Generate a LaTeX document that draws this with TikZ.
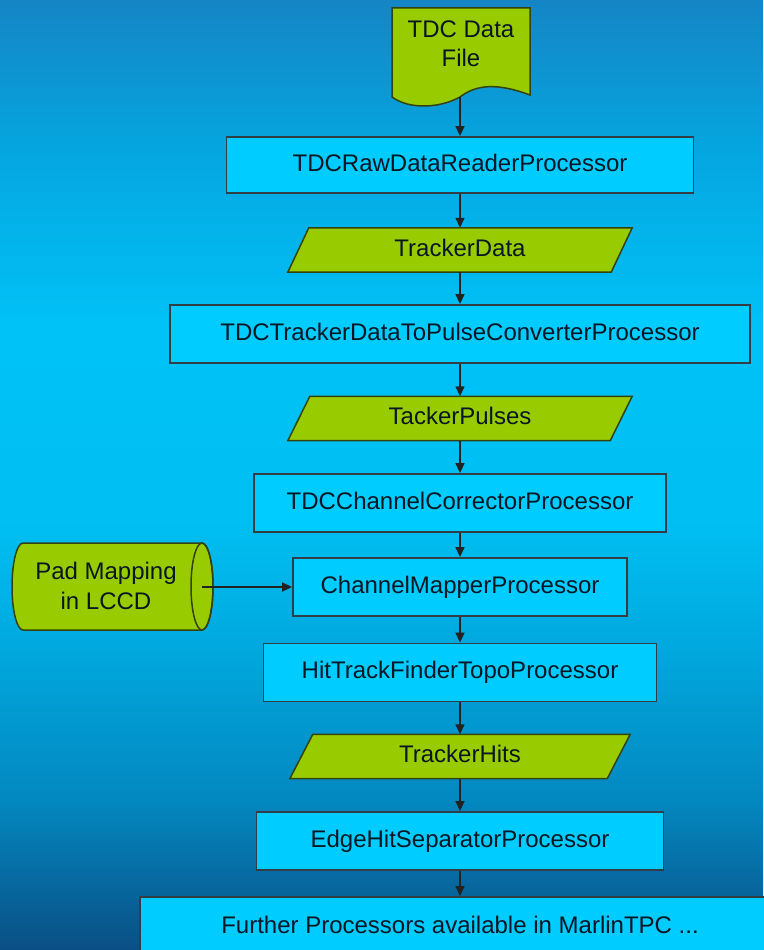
\documentclass[tikz,border=0pt]{standalone}
\usepackage{fontspec}
\setmainfont{Liberation Sans}
\usetikzlibrary{arrows.meta}
\definecolor{bgA}{HTML}{0A4F85}
\definecolor{bgB}{HTML}{0388C0}
\definecolor{bgC}{HTML}{00A8DE}
\definecolor{bgD}{HTML}{00BFF2}
\definecolor{bgE}{HTML}{00C2F6}
\definecolor{bgF}{HTML}{05A6E0}
\definecolor{bgG}{HTML}{1585C5}
\definecolor{boxfill}{HTML}{00CCFF}
\definecolor{boxline}{HTML}{333D46}
\definecolor{datafill}{HTML}{99CC00}
\definecolor{dataline}{HTML}{34420F}
\definecolor{txt}{HTML}{0A1624}
\definecolor{arrowc}{HTML}{222222}
\pgfdeclareverticalshading{bgshade}{100bp}{color(0bp)=(bgA); color(25bp)=(bgA); color(32.9bp)=(bgB); color(40.8bp)=(bgC); color(47.65bp)=(bgD); color(57.65bp)=(bgE); color(67.1bp)=(bgF); color(75bp)=(bgG); color(100bp)=(bgG)}
\pgfdeclarelayer{bgl}
\pgfdeclarelayer{back}
\pgfsetlayers{bgl,back,main}
\begin{document}
\begin{tikzpicture}[x=1pt,y=-1pt,
  font=\fontsize{24}{29}\selectfont,
  proc/.style={draw=boxline, line width=1.8pt, fill=boxfill, text=txt, inner sep=0pt,
    text height=17.5pt, text depth=5pt},
  para/.style={text=txt, inner sep=0pt, minimum height=44pt, text height=17.5pt, text depth=5pt},
  shapeline/.style={draw=dataline, line width=1.5pt, fill=datafill},
  flow/.style={draw=arrowc, line width=1.4pt, -{Triangle[length=10pt,width=9pt]}}]
\useasboundingbox (0,0) rectangle (763,950);
\begin{pgfonlayer}{bgl}
  \shade[shading=bgshade] (0,0) rectangle (763,950);
\end{pgfonlayer}

% data file
\node[text=txt, align=center, inner sep=0pt] (tdc) at (461,44) {TDC Data\\File};
\coordinate (tdcout) at (460,97);
\begin{pgfonlayer}{back}
  \path[shapeline] (392,8) -- (530,8) -- (530,95)
    .. controls (490,80) and (472,88) .. (460,97)
    .. controls (440,108) and (410,110) .. (392,97) -- cycle;
\end{pgfonlayer}

% processors and data
\node[proc, minimum width=467pt, minimum height=56pt] (raw) at (460,165) {TDCRawDataReaderProcessor};
\node[para, minimum width=323pt] (td) at (460,250) {TrackerData};
\node[proc, minimum width=580pt, minimum height=58pt] (conv) at (460,334) {TDCTrackerDataToPulseConverterProcessor};
\node[para, minimum width=322pt] (tp) at (460,418.5) {TackerPulses};
\node[proc, minimum width=412pt, minimum height=58pt] (corr) at (460,503) {TDCChannelCorrectorProcessor};
\node[proc, minimum width=334pt, minimum height=58pt] (map) at (460,587) {ChannelMapperProcessor};
\node[proc, minimum width=393pt, minimum height=58pt] (find) at (460,672.5) {HitTrackFinderTopoProcessor};
\node[para, minimum width=317pt] (th) at (460,756.5) {TrackerHits};
\node[proc, minimum width=407pt, minimum height=58pt] (edge) at (460,841) {EdgeHitSeparatorProcessor};
\node[proc, minimum width=640pt, minimum height=66pt, text depth=10pt] (further) at (460,930) {Further Processors available in MarlinTPC ...};

\begin{pgfonlayer}{back}
  \path[shapeline] ([xshift=-10.5pt]td.south west) -- ([xshift=10.5pt]td.north west)
    -- ([xshift=10.5pt]td.north east) -- ([xshift=-10.5pt]td.south east) -- cycle;
  \path[shapeline] ([xshift=-11pt]tp.south west) -- ([xshift=11pt]tp.north west)
    -- ([xshift=11pt]tp.north east) -- ([xshift=-11pt]tp.south east) -- cycle;
  \path[shapeline] ([xshift=-11.5pt]th.south west) -- ([xshift=11.5pt]th.north west)
    -- ([xshift=11.5pt]th.north east) -- ([xshift=-11.5pt]th.south east) -- cycle;
\end{pgfonlayer}

% pad mapping cylinder
\node[text=txt, align=center, inner sep=0pt, font=\fontsize{24}{30}\selectfont] (pad) at (106,586) {Pad Mapping\\in LCCD};
\coordinate (padout) at (202,587);
\begin{pgfonlayer}{back}
  \path[shapeline] (202,543) -- (23,543)
    arc[start angle=90, end angle=270, x radius=11pt, y radius=43.5pt]
    -- (202,630)
    arc[start angle=-90, end angle=90, x radius=11pt, y radius=43.5pt] -- cycle;
  \draw[draw=dataline, line width=1.5pt] (202,586.5) ellipse [x radius=11pt, y radius=43.5pt];
\end{pgfonlayer}

% connectors
\draw[flow] (tdcout) -- (raw.north);
\draw[flow] (raw.south) -- (td.north);
\draw[flow] (td.south) -- (conv.north);
\draw[flow] (conv.south) -- (tp.north);
\draw[flow] (tp.south) -- (corr.north);
\draw[flow] (corr.south) -- (map.north);
\draw[flow] (map.south) -- (find.north);
\draw[flow] (find.south) -- (th.north);
\draw[flow] (th.south) -- (edge.north);
\draw[flow] (edge.south) -- (further.north);
\draw[flow] (padout) -- (map.west);
\end{tikzpicture}
\end{document}
